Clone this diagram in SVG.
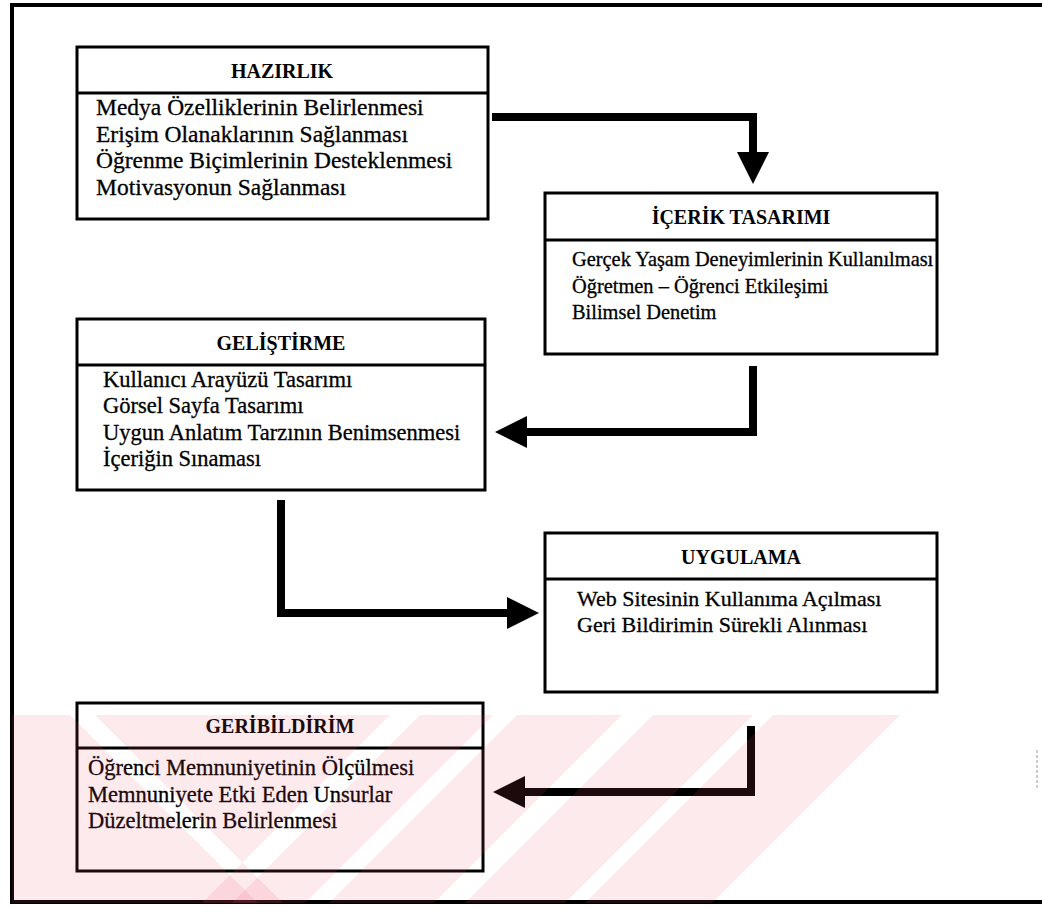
<svg xmlns="http://www.w3.org/2000/svg" width="1042" height="909" viewBox="0 0 1042 909">
<defs>
<style>
.box{fill:#fff;stroke:#000;stroke-width:3}
.div{stroke:#000;stroke-width:3}
.title{font-family:"Liberation Serif","Times New Roman",serif;font-weight:bold;font-size:20px;text-anchor:middle;fill:#000}
.body{font-family:"Liberation Serif","Times New Roman",serif;font-size:22.5px;fill:#000;stroke:#000;stroke-width:0.3}
.big{font-size:23.5px}
.small{font-size:20.4px}
.mid{font-size:22px}
.conn{fill:none;stroke:#000;stroke-width:8;stroke-linejoin:miter;stroke-linecap:butt}
.wm{fill:#f0506e;fill-opacity:0.12}
</style>
<marker id="ah" markerUnits="userSpaceOnUse" markerWidth="32" markerHeight="32" refX="0" refY="16" orient="auto" viewBox="0 0 32 32">
<path d="M0,0 L32,16 L0,32 Z" fill="#000"/>
</marker>
<clipPath id="wmclip"><rect x="12" y="715" width="900" height="188"/></clipPath>
</defs>
<rect width="1042" height="909" fill="#fff"/>
<path d="M1042,5 H12 V902 H1042" fill="none" stroke="#000" stroke-width="4"/>
<line x1="1037" y1="750" x2="1037" y2="790" stroke="#999" stroke-width="1" stroke-dasharray="3,2"/>

<g id="hazirlik">
<rect class="box" x="77" y="47" width="411" height="172"/>
<line class="div" x1="77" y1="93" x2="488" y2="93"/>
<text class="title" x="282" y="78">HAZIRLIK</text>
<text class="body big" x="96" y="115">Medya Özelliklerinin Belirlenmesi</text>
<text class="body big" x="96" y="142">Erişim Olanaklarının Sağlanması</text>
<text class="body big" x="96" y="168">Öğrenme Biçimlerinin Desteklenmesi</text>
<text class="body big" x="96" y="195">Motivasyonun Sağlanması</text>
</g>

<g id="icerik">
<rect class="box" x="545" y="193" width="392" height="161"/>
<line class="div" x1="545" y1="240" x2="937" y2="240"/>
<text class="title" x="741" y="224">İÇERİK TASARIMI</text>
<text class="body small" x="572" y="266">Gerçek Yaşam Deneyimlerinin Kullanılması</text>
<text class="body small" x="572" y="293">Öğretmen – Öğrenci Etkileşimi</text>
<text class="body small" x="572" y="319">Bilimsel Denetim</text>
</g>

<g id="gelistirme">
<rect class="box" x="77" y="319" width="408" height="171"/>
<line class="div" x1="77" y1="365" x2="485" y2="365"/>
<text class="title" x="281" y="350">GELİŞTİRME</text>
<text class="body" x="103" y="387">Kullanıcı Arayüzü Tasarımı</text>
<text class="body" x="103" y="413">Görsel Sayfa Tasarımı</text>
<text class="body" x="103" y="440">Uygun Anlatım Tarzının Benimsenmesi</text>
<text class="body" x="103" y="466">İçeriğin Sınaması</text>
</g>

<g id="uygulama">
<rect class="box" x="545" y="533" width="392" height="159"/>
<line class="div" x1="545" y1="579" x2="937" y2="579"/>
<text class="title" x="741" y="564">UYGULAMA</text>
<text class="body mid" x="577" y="606">Web Sitesinin Kullanıma Açılması</text>
<text class="body mid" x="577" y="632">Geri Bildirimin Sürekli Alınması</text>
</g>

<g id="geribildirim">
<rect class="box" x="77" y="703" width="406" height="168"/>
<line class="div" x1="77" y1="748" x2="483" y2="748"/>
<text class="title" x="280" y="733">GERİBİLDİRİM</text>
<text class="body" x="88" y="775">Öğrenci Memnuniyetinin Ölçülmesi</text>
<text class="body" x="88" y="802">Memnuniyete Etki Eden Unsurlar</text>
<text class="body" x="88" y="828">Düzeltmelerin Belirlenmesi</text>
</g>

<g id="connectors">
<path class="conn" d="M492,117 H753 V152" marker-end="url(#ah)"/>
<path class="conn" d="M753,366 V432 H527" marker-end="url(#ah)"/>
<path class="conn" d="M281,500 V613 H507" marker-end="url(#ah)"/>
<path class="conn" d="M751,726 V792 H525" marker-end="url(#ah)"/>
</g>

<g id="watermark" clip-path="url(#wmclip)">
<polygon class="wm" points="12,715 70,715 258,903 12,903"/>
<polygon class="wm" points="95,715 390,715 202,903 283,903"/>
<polygon class="wm" points="420,715 493,715 305,903 232,903"/>
<polygon class="wm" points="517,715 622,715 434,903 329,903"/>
<polygon class="wm" points="653,715 753,715 565,903 465,903"/>
<polygon class="wm" points="773,715 900,715 712,903 585,903"/>
</g>
</svg>
